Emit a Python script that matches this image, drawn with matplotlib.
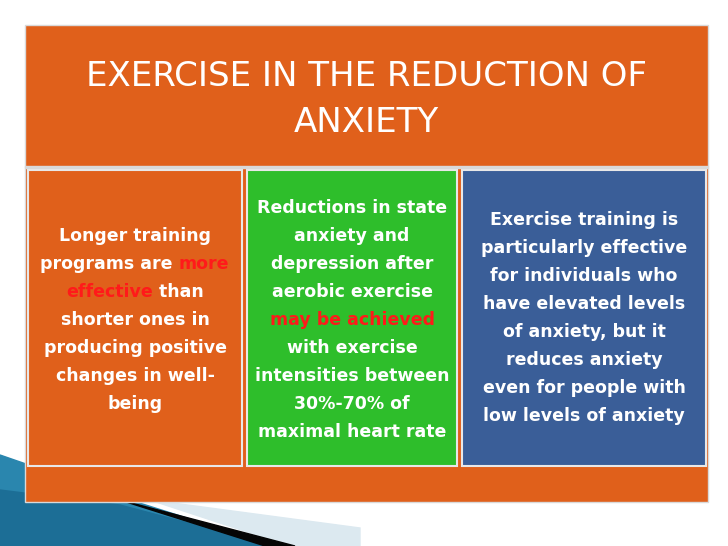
import matplotlib
matplotlib.use("Agg")
import matplotlib.pyplot as plt
from matplotlib.patches import Rectangle, Polygon

W, R = "white", "#FF1A1A"

title_lines = ["EXERCISE IN THE REDUCTION OF", "ANXIETY"]

# each line: list of (text, colour) segments
box1_lines = [[("Longer training", W)],
              [("programs are ", W), ("more", R)],
              [("effective", R), (" than", W)],
              [("shorter ones in", W)],
              [("producing positive", W)],
              [("changes in well-", W)],
              [("being", W)]]
box2_lines = [[("Reductions in state", W)],
              [("anxiety and", W)],
              [("depression after", W)],
              [("aerobic exercise", W)],
              [("may be achieved", R)],
              [("with exercise", W)],
              [("intensities between", W)],
              [("30%-70% of", W)],
              [("maximal heart rate", W)]]
box3_lines = [[("Exercise training is", W)],
              [("particularly effective", W)],
              [("for individuals who", W)],
              [("have elevated levels", W)],
              [("of anxiety, but it", W)],
              [("reduces anxiety", W)],
              [("even for people with", W)],
              [("low levels of anxiety", W)]]

ORANGE = "#E0601B"
GREEN = "#2EBE2B"
BLUE = "#3A5E98"

fig = plt.figure(figsize=(7.28, 5.46), dpi=100)
ax = fig.add_axes([0, 0, 1, 1])
ax.set_xlim(0, 728)
ax.set_ylim(546, 0)
ax.axis("off")

# swoosh bottom-left (behind the frame)
ax.add_patch(Polygon([(150, 500), (360, 528), (360, 546), (290, 546)], color="#DCE9F0"))
ax.add_patch(Polygon([(0, 455), (130, 500), (275, 546), (0, 546)], color="#2A86AE"))
ax.add_patch(Polygon([(0, 490), (120, 505), (275, 546), (0, 546)], color="#1C6E96"))
ax.add_patch(Polygon([(120, 500), (295, 546), (265, 546)], color="#050505"))

# background frame
ax.add_patch(Rectangle((25, 25), 683, 477, color=ORANGE, ec="#D9D9D9", lw=1))
ax.add_patch(Rectangle((25, 166), 683, 2, color="#D9D9D9"))
boxes = [(28, 170, 214, 296, ORANGE, box1_lines, 236),
         (247, 170, 210, 296, GREEN, box2_lines, 208),
         (462, 170, 244, 296, BLUE, box3_lines, 220)]
for x, y, w, h, c, _, _ in boxes:
    ax.add_patch(Rectangle((x, y), w, h, color=c, ec="#E8E8E8", lw=1.5))

for i, t in enumerate(title_lines):
    ax.text(366, 76 + i * 47, t, color="white", fontsize=24.5,
            ha="center", va="center")

fig.canvas.draw()
rend = fig.canvas.get_renderer()
fs = 12.5
for x, y, w, h, c, lines, y0 in boxes:
    cx = x + w / 2
    for i, segs in enumerate(lines):
        ly = y0 + i * 28
        # measure segments to centre the whole line
        widths = []
        for s, col in segs:
            tmp = ax.text(0, 0, s.replace(" ", "\u00a0"), fontsize=fs, fontweight="bold")
            widths.append(tmp.get_window_extent(rend).width)
            tmp.remove()
        sx = cx - sum(widths) / 2
        for (s, col), wd in zip(segs, widths):
            ax.text(sx, ly, s.replace(" ", "\u00a0"), color=col, fontsize=fs,
                    fontweight="bold", ha="left", va="center")
            sx += wd

fig.savefig("out.png", dpi=100)
